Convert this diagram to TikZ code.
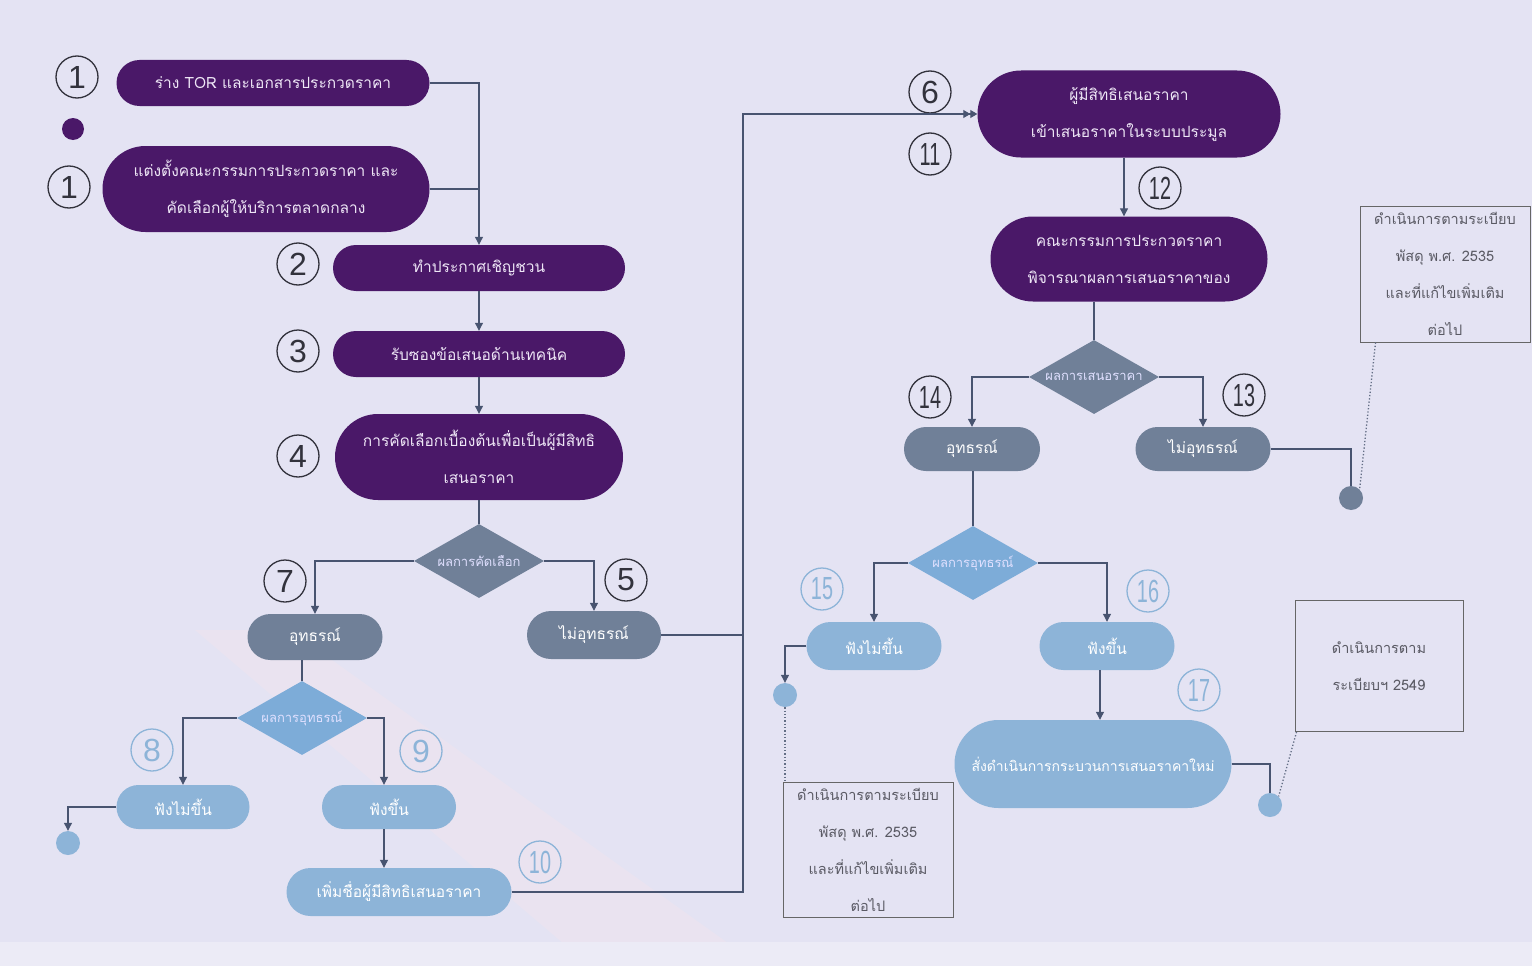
\documentclass[tikz,border=0pt]{standalone}
\usepackage{fontspec}
\setmainfont{Liberation Sans}
\newfontfamily\thai[Script=Thai]{Loma}
\usetikzlibrary{shapes.misc,shapes.geometric,arrows.meta,calc}
\definecolor{bg}{RGB}{228,227,243}
\definecolor{bgband}{RGB}{236,228,240}
\definecolor{bgbottom}{RGB}{236,235,246}
\definecolor{purp}{RGB}{74,24,104}
\definecolor{slate}{RGB}{112,128,152}
\definecolor{lblue}{RGB}{141,180,216}
\definecolor{dblue}{RGB}{125,172,216}
\definecolor{lineC}{RGB}{72,84,112}
\definecolor{txtP}{RGB}{238,230,246}
\definecolor{numC}{RGB}{50,50,60}
\definecolor{noteT}{RGB}{90,90,100}
\tikzset{
  pill/.style={rounded rectangle, draw=none, align=center, inner sep=0pt,
    font=\thai\fontsize{15.5}{37}\selectfont},
  purpnode/.style={pill, fill=purp, text=txtP},
  slatenode/.style={pill, fill=slate, text=white},
  bluenode/.style={pill, fill=lblue, text=white},
  dia/.style={diamond, aspect=1.76, inner sep=0pt, minimum width=130, minimum height=74,
    font=\thai\fontsize{13}{14}\selectfont, text=white!88!blue},
  num/.style={circle, draw=numC, line width=1.3pt, minimum size=42, inner sep=0pt,
    text=numC, font=\fontsize{32}{32}\selectfont},
  numL/.style={num, draw=lblue, text=lblue},
  conn/.style={draw=lineC, line width=1.1pt},
  arr/.style={conn, -{Triangle[width=8pt,length=8pt]}},
  darr/.style={conn, -{Triangle[width=8pt,length=7pt]Triangle[width=8pt,length=7pt]}},
  dots/.style={draw=lineC!85, line width=1.3pt, dotted},
  note/.style={draw=gray!80!black, line width=0.9pt, align=center, inner sep=3pt,
    font=\thai\fontsize{14.5}{37}\selectfont, text=noteT},
  enddot/.style={circle, inner sep=0pt, minimum size=24}
}
\newcommand{\two}[1]{\scalebox{0.62}[1]{#1}}
\begin{document}
\begin{tikzpicture}[x=1pt,y=-1pt]
% background
\fill[bg] (0,0) rectangle (1532,966);
\useasboundingbox (0,0) rectangle (1532,966);
\fill[bgband, opacity=0.8] (195,630) -- (290,630) -- (760,966) -- (590,966) -- cycle;
\fill[bgbottom] (0,942) rectangle (1532,966);

% ---- left column ----
\node[purpnode, minimum width=313, minimum height=46] (A1) at (273,83) {ร่าง TOR และเอกสารประกวดราคา};
\node[num] (c1a) at (77,77) {1};
\node[enddot, fill=purp, minimum size=22] (d0) at (73,129) {};
\node[purpnode, minimum width=327, minimum height=86] (A2) at (266,189) {แต่งตั้งคณะกรรมการประกวดราคา และ\\คัดเลือกผู้ให้บริการตลาดกลาง};
\node[num] (c1b) at (69,187) {1};

\node[purpnode, minimum width=292, minimum height=46] (B2) at (479,268) {ทำประกาศเชิญชวน};
\node[num] (c2) at (298,264) {2};
\node[purpnode, minimum width=292, minimum height=46] (B3) at (479,354) {รับซองข้อเสนอด้านเทคนิค};
\node[num] (c3) at (298,351) {3};
\node[purpnode, minimum width=288, minimum height=86] (B4) at (479,457) {การคัดเลือกเบื้องต้นเพื่อเป็นผู้มีสิทธิ\\เสนอราคา};
\node[num] (c4) at (298,456) {4};

\node[dia, fill=slate] (D1) at (479,561) {ผลการคัดเลือก};
\node[slatenode, minimum width=135, minimum height=46] (N7) at (315,637) {อุทธรณ์};
\node[num] (c7) at (285,581) {7};
\node[slatenode, minimum width=134, minimum height=48] (N5) at (594,635) {ไม่อุทธรณ์};
\node[num] (c5) at (626,580) {5};

\node[dia, fill=dblue] (D2) at (302,718) {ผลการอุทธรณ์};
\node[bluenode, minimum width=133, minimum height=44] (N8) at (183,807) {ฟังไม่ขึ้น};
\node[numL] (c8) at (152,750) {8};
\node[bluenode, minimum width=134, minimum height=44] (N9) at (389,807) {ฟังขึ้น};
\node[numL] (c9) at (421,751) {9};
\node[enddot, fill=lblue] (d1) at (68,843) {};
\node[bluenode, minimum width=225, minimum height=48] (N10) at (399,892) {เพิ่มชื่อผู้มีสิทธิเสนอราคา};
\node[numL] (c10) at (540,862) {\two{10}};

% ---- right column ----
\node[purpnode, minimum width=303, minimum height=87] (N6) at (1129,114) {ผู้มีสิทธิเสนอราคา\\เข้าเสนอราคาในระบบประมูล};
\node[num] (c6) at (930,92) {6};
\node[num] (c11) at (930,154) {\two{11}};
\node[purpnode, minimum width=277, minimum height=85] (N12) at (1129,259) {คณะกรรมการประกวดราคา\\พิจารณาผลการเสนอราคาของ};
\node[num] (c12) at (1160,188) {\two{12}};

\node[dia, fill=slate] (D3) at (1094,377) {ผลการเสนอราคา};
\node[slatenode, minimum width=136, minimum height=44] (N14) at (972,449) {อุทธรณ์};
\node[num] (c14) at (930,397) {\two{14}};
\node[slatenode, minimum width=135, minimum height=44] (N13) at (1203,449) {ไม่อุทธรณ์};
\node[num] (c13) at (1244,395) {\two{13}};
\node[enddot, fill=slate] (d3) at (1351,498) {};
\node[note, minimum width=170, minimum height=136] (T1) at (1445,274) {ดำเนินการตามระเบียบ\\พัสดุ พ.ศ. 2535\\และที่แก้ไขเพิ่มเติม\\ต่อไป};

\node[dia, fill=dblue] (D4) at (973,563) {ผลการอุทธรณ์};
\node[bluenode, minimum width=135, minimum height=48] (N15) at (874,646) {ฟังไม่ขึ้น};
\node[numL] (c15) at (822,589) {\two{15}};
\node[bluenode, minimum width=135, minimum height=48] (N16) at (1107,646) {ฟังขึ้น};
\node[numL] (c16) at (1148,591) {\two{16}};
\node[enddot, fill=lblue] (d4) at (785,695) {};
\node[note, minimum width=170, minimum height=135] (T3) at (868,850) {ดำเนินการตามระเบียบ\\พัสดุ พ.ศ. 2535\\และที่แก้ไขเพิ่มเติม\\ต่อไป};

\node[bluenode, minimum width=277, minimum height=88, font=\thai\fontsize{14}{37}\selectfont] (N17) at (1093,764) {สั่งดำเนินการกระบวนการเสนอราคาใหม่};
\node[numL] (c17) at (1199,690) {\two{17}};
\node[enddot, fill=lblue] (d5) at (1270,805) {};
\node[note, minimum width=168, minimum height=131] (T2) at (1379,666) {ดำเนินการตาม\\ระเบียบฯ 2549};

% ---- connectors ----
\draw[arr] (A1.east) -| (B2.north);
\draw[conn] (A2.east) -- (A2.east -| B2.north);
\draw[arr] (B2.south) -- (B3.north);
\draw[arr] (B3.south) -- (B4.north);
\draw[conn] (B4.south) -- (D1.north);
\draw[arr] (D1.west) -| (N7.north);
\draw[arr] (D1.east) -| (N5.north);
\draw[conn] (D2.north |- N7.south) -- (D2.north);
\coordinate (p9n) at ($(N9.north)+(-5,0)$);
\coordinate (p9s) at ($(N9.south)+(-5,0)$);
\draw[arr] (D2.west) -| (N8.north);
\draw[arr] (D2.east) -| (p9n);
\draw[arr] (N8.west) -| (d1.north);
\draw[arr] (p9s) -- (p9s |- N10.north);
\coordinate (bus) at (743,114);
\draw[darr] (N10.east) -| (bus) -- (N6.west);
\draw[conn] (N5.east) -- (N5.east -| bus);

\coordinate (p6s) at ($(N6.south)+(-5,0)$);
\draw[arr] (p6s) -- (p6s |- N12.north);
\draw[conn] (D3.north |- N12.south) -- (D3.north);
\draw[arr] (D3.west) -| (N14.north);
\draw[arr] (D3.east) -| (N13.north);
\draw[conn] (N13.east) -| (d3.north);
\coordinate (t1) at ($(T1.south west)+(16,0)$);
\draw[dots] (t1) -- (d3.north east);
\draw[conn] (D4.north |- N14.south) -- (D4.north);
\draw[arr] (D4.west) -| (N15.north);
\draw[arr] (D4.east) -| (N16.north);
\draw[arr] (N15.west) -| (d4.north);
\draw[dots] (d4.south) -- (d4.south |- T3.north);
\coordinate (p16s) at ($(N16.south)+(-7,0)$);
\draw[arr] (p16s) -- (p16s |- N17.north);
\draw[conn] (N17.east) -| (d5.north);
\coordinate (t2) at ($(T2.south west)+(2,0)$);
\draw[dots] (t2) -- (d5.north east);
\end{tikzpicture}
\end{document}
